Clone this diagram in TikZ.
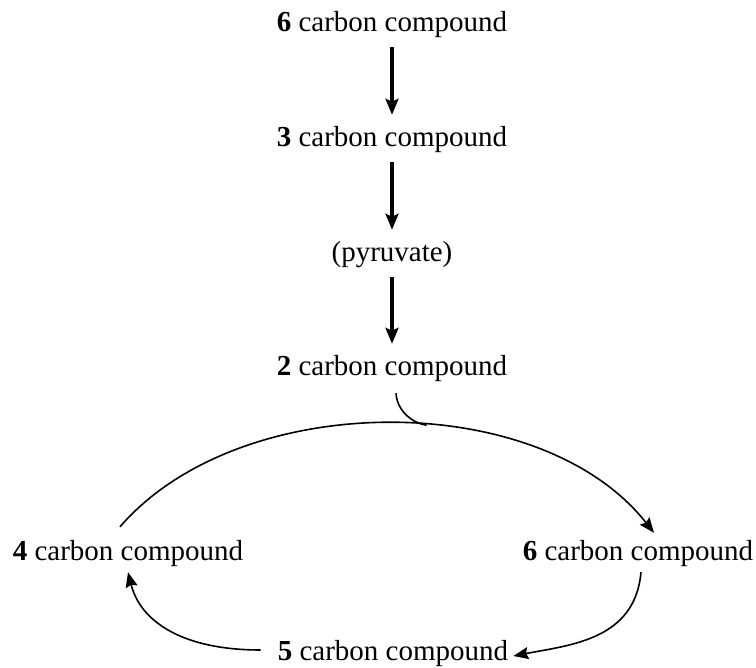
\documentclass[tikz,border=0pt]{standalone}
\usepackage{fontspec}
\setmainfont{Liberation Serif}
\usetikzlibrary{arrows.meta}
\tikzset{
  cmpd/.style={font=\fontsize{29pt}{34pt}\selectfont, inner sep=5pt, text height=20pt, text depth=6pt, anchor=base},
  downarr/.style={line width=3.2pt, -{Stealth[length=16pt,width=13pt,inset=3pt]}, shorten <=4pt, shorten >=7pt},
  cyclearr/.style={line width=1.6pt, -{Stealth[length=15pt,width=12pt,inset=2pt]}},
  cycleline/.style={line width=1.6pt},
}

\begin{document}
\begin{tikzpicture}[x=1pt,y=-1pt]
		%%%%% START %%%%%
		\useasboundingbox (0,0) rectangle (756,668);
		
		\node[cmpd] (sixtop) at (392,32) {\textbf{6} carbon compound};
		\node[cmpd] (three) at (392,147) {\textbf{3} carbon compound};
		\node[cmpd] (pyruvate) at (392,262) {(pyruvate)};
		\node[cmpd] (two) at (392,376) {\textbf{2} carbon compound};
		
		\draw[downarr] (sixtop) -- (three);
		\draw[downarr] (three) -- (pyruvate);
		\draw[downarr] (pyruvate) -- (two);
		
		\node[cmpd] (four) at (128,561) {\textbf{4} carbon compound};
		\node[cmpd] (sixcyc) at (638,561) {\textbf{6} carbon compound};
		\node[cmpd] (five) at (393,660) {\textbf{5} carbon compound};
		
		% big arch, 4 -> 6
		\draw[cyclearr] ([shift={(-8,-9)}]four.north) .. controls (240,388) and (540,388) .. ([shift={(16,-3)}]sixcyc.north)
			coordinate[pos=0.56] (join);
		\draw[cycleline] ([shift={(4,6)}]two.south) .. controls +(1,18) and +(-14,-2) .. (join);
		
		% round the cycle
		\draw[cyclearr] ([xshift=3pt]sixcyc.south) .. controls (635,640) and (570,645) .. ([yshift=-3pt]five.east);
		\draw[cyclearr] ([shift={(-12,-3)}]five.west) .. controls (180,650) and (140,620) .. (four.south);
		
		%%%%% END %%%%%
\end{tikzpicture}
\end{document}
